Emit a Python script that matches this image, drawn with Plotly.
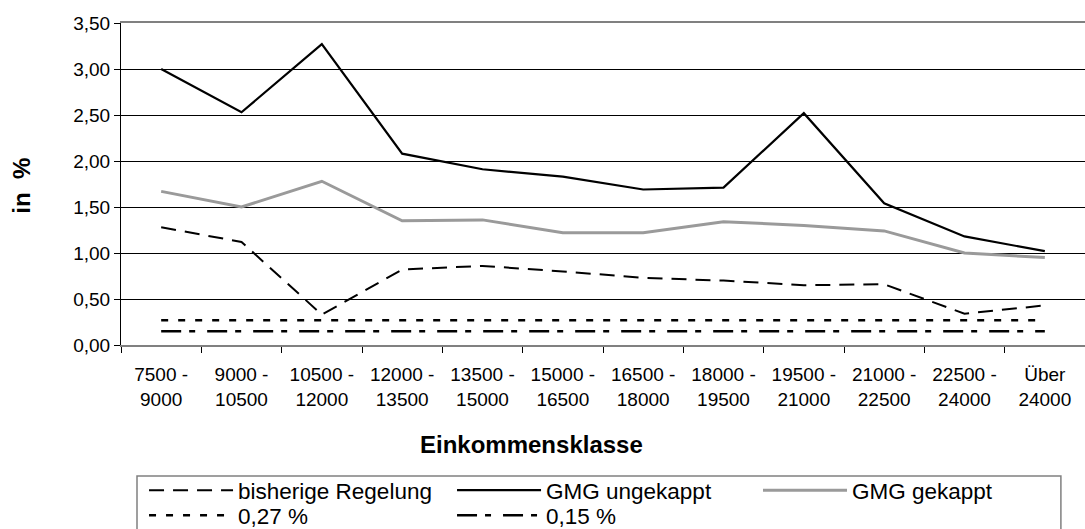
import plotly.graph_objects as go

FONT = "Liberation Sans, Arial, sans-serif"

CATEGORIES = [
    "7500 -<br>9000", "9000 -<br>10500", "10500 -<br>12000", "12000 -<br>13500",
    "13500 -<br>15000", "15000 -<br>16500", "16500 -<br>18000", "18000 -<br>19500",
    "19500 -<br>21000", "21000 -<br>22500", "22500 -<br>24000", "Über<br>24000",
]

BISHERIG = [1.28, 1.12, 0.33, 0.82, 0.86, 0.80, 0.73, 0.70, 0.65, 0.66, 0.34, 0.43]
UNGEKAPPT = [3.00, 2.53, 3.27, 2.08, 1.91, 1.83, 1.69, 1.71, 2.52, 1.54, 1.18, 1.02]
GEKAPPT = [1.67, 1.50, 1.78, 1.35, 1.36, 1.22, 1.22, 1.34, 1.30, 1.24, 1.00, 0.95]
SATZ_027 = [0.27] * 12
SATZ_015 = [0.15] * 12

Y_TICKS = [0, 0.5, 1.0, 1.5, 2.0, 2.5, 3.0, 3.5]

# one small legend per entry so the 3x2 grid can be placed like the original
ROW1, ROW2 = -0.452, -0.530
COL1, COL2, COL3 = 0.0239, 0.3434, 0.6608

fig = go.Figure()

fig.add_trace(go.Scatter(
    x=CATEGORIES, y=BISHERIG, name="bisherige Regelung", mode="lines",
    line=dict(color="black", width=2, dash="15px,9px"), legend="legend",
))
fig.add_trace(go.Scatter(
    x=CATEGORIES, y=UNGEKAPPT, name="GMG ungekappt", mode="lines",
    line=dict(color="black", width=2.2), legend="legend2",
))
fig.add_trace(go.Scatter(
    x=CATEGORIES, y=GEKAPPT, name="GMG gekappt", mode="lines",
    line=dict(color="#9A9A9A", width=3), legend="legend3",
))
fig.add_trace(go.Scatter(
    x=CATEGORIES, y=SATZ_027, name="0,27 %", mode="lines",
    line=dict(color="black", width=2.5, dash="7px,10px"), legend="legend4",
))
fig.add_trace(go.Scatter(
    x=CATEGORIES, y=SATZ_015, name="0,15 %", mode="lines",
    line=dict(color="black", width=2.5, dash="20px,8px,6px,12px"), legend="legend5",
))

leg = dict(
    orientation="v", yanchor="middle", xanchor="left",
    font=dict(family=FONT, size=22.5, color="black"),
    bgcolor="rgba(0,0,0,0)", borderwidth=0, itemwidth=84,
)

fig.update_layout(
    width=1085, height=529,
    paper_bgcolor="white", plot_bgcolor="white",
    separators=",.",
    font=dict(family=FONT, size=19, color="black"),
    margin=dict(l=121, r=0, t=23, b=184, autoexpand=False),
    showlegend=True,
    legend=dict(leg, x=COL1, y=ROW1),
    legend2=dict(leg, x=COL2, y=ROW1),
    legend3=dict(leg, x=COL3, y=ROW1),
    legend4=dict(leg, x=COL1, y=ROW2),
    legend5=dict(leg, x=COL2, y=ROW2),
    xaxis=dict(
        type="category", range=[-0.5, 11.5], tickson="boundaries", ticks="outside",
        ticklen=6, tickcolor="black", ticklabelstandoff=11, showgrid=False,
        showline=True, linecolor="#808080", linewidth=2, mirror=True, zeroline=False,
        tickfont=dict(family=FONT, size=19, color="black"),
    ),
    yaxis=dict(
        range=[0, 3.5], tickvals=Y_TICKS, tickformat=".2f", ticks="outside",
        ticklen=6, tickcolor="black", showgrid=True, gridcolor="black", gridwidth=1,
        showline=True, linecolor="black", linewidth=1, zeroline=False,
        tickfont=dict(family=FONT, size=19, color="black"),
    ),
    annotations=[
        dict(text="<b>Einkommensklasse</b>", xref="paper", yref="paper", x=0.426, y=-0.3075,
             showarrow=False, font=dict(family=FONT, size=24, color="black"),
             xanchor="center", yanchor="middle"),
        dict(text="<b>in  %</b>", xref="paper", yref="paper", x=-0.103, y=0.494,
             showarrow=False, textangle=-90, font=dict(family=FONT, size=24, color="black"),
             xanchor="center", yanchor="middle"),
    ],
    shapes=[dict(
        type="rect", xref="paper", yref="paper", x0=0.0166, x1=0.975, y0=-0.407, y1=-0.7,
        line=dict(color="#808080", width=1.5), fillcolor="rgba(0,0,0,0)", layer="below",
    )],
)

# drop the browser's default 8px body margin so the page matches the figure
fig.write_html(
    "out.html",
    config={"displayModeBar": False},
    post_script="document.body.style.margin='0';",
)
